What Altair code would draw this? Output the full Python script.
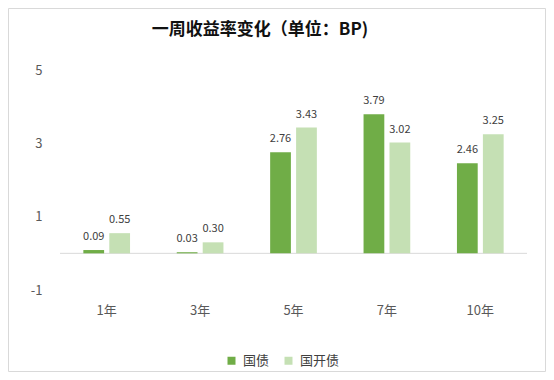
import altair as alt
import pandas as pd

categories = ["1年", "3年", "5年", "7年", "10年"]
series = ["国债", "国开债"]
guozhai = [0.09, 0.03, 2.76, 3.79, 2.46]
guokaizhai = [0.55, 0.30, 3.43, 3.02, 3.25]
y_ticks = [-1, 1, 3, 5]
colors = ["#70AD47", "#C5E0B4"]
title_text = "一周收益率变化（单位：BP)"

rows = []
for i, c in enumerate(categories):
    rows.append({"cat": c, "series": series[0], "value": guozhai[i]})
    rows.append({"cat": c, "series": series[1], "value": guokaizhai[i]})
df = pd.DataFrame(rows)

W, H = 467, 220
PL, PT, PR, PB = 52, 62, 19, 82

font = "Noto Sans CJK SC"

x_enc = alt.X("cat:N", sort=categories,
              scale=alt.Scale(paddingInner=0.5, paddingOuter=0.25),
              axis=alt.Axis(title=None, labelAngle=0, domain=False, ticks=False,
                            labelPadding=14, labelFontSize=13, labelColor="#595959",
                            labelFont=font))
xo_enc = alt.XOffset("series:N", sort=series,
                     scale=alt.Scale(paddingInner=0.2, paddingOuter=0))
y_enc = alt.Y("value:Q", scale=alt.Scale(domain=[-1, 5], nice=False, zero=False),
              axis=alt.Axis(title=None, values=y_ticks, grid=False, domain=False,
                            ticks=False, labelPadding=18, labelFontSize=13,
                            labelColor="#595959", labelFont=font,
                            labelExpr="'' + datum.value"))

base = alt.Chart(df)

bars = base.mark_bar().encode(
    x=x_enc, xOffset=xo_enc, y=y_enc, y2=alt.datum(0),
    color=alt.Color("series:N", sort=series,
                    scale=alt.Scale(domain=series, range=colors),
                    legend=alt.Legend(title=None, orient="none", direction="horizontal",
                                      legendX=165, legendY=284, symbolType="square",
                                      symbolSize=64, labelFontSize=13, labelFont=font,
                                      labelColor="#404040", columnPadding=12,
                                      labelOffset=5, symbolStrokeWidth=0, padding=0)),
)

labels = base.mark_text(fontSize=11, color="#404040", baseline="alphabetic", dy=-10,
                        font=font).encode(
    x=x_enc, xOffset=xo_enc, y=y_enc,
    text=alt.Text("value:Q", format=".2f"),
)

zero = alt.Chart(alt.Data(values=[{"v": 0}])).mark_rule(color="#D9D9D9", strokeWidth=1).encode(
    y=alt.Y("v:Q", scale=alt.Scale(domain=[-1, 5], nice=False, zero=False))
)

border = alt.Chart(alt.Data(values=[{}])).mark_rect(
    fill=None, stroke="#D9D9D9", strokeWidth=1, clip=False
).encode(
    x=alt.value(-PL + 0.5), x2=alt.value(W + PR - 0.5),
    y=alt.value(-PT + 0.5), y2=alt.value(H + PB - 0.5),
)

title = alt.Chart(alt.Data(values=[{"t": title_text}])).mark_text(
    font=font, fontSize=17, fontWeight="bold", color="#111111",
    align="center", baseline="middle"
).encode(x=alt.value(200), y=alt.value(-40), text="t:N")

chart = alt.layer(border, zero, bars, labels, title).properties(
    width=W, height=H,
    autosize=alt.AutoSizeParams(type="none"),
    padding={"left": PL, "top": PT, "right": PR, "bottom": PB},
).configure(background="white").configure_view(strokeWidth=0, stroke="transparent")

chart.save("out.html", embed_options={"renderer": "svg", "actions": False})
